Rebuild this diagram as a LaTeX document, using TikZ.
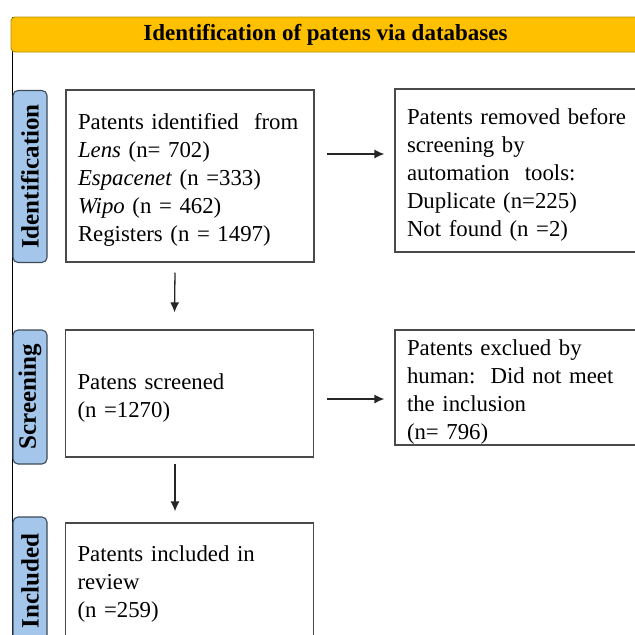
\documentclass[tikz,border=0pt]{standalone}
\usepackage{fontspec}
\setmainfont{Liberation Serif}
\usetikzlibrary{arrows.meta}
\definecolor{hdr}{HTML}{FFC000}
\definecolor{hdrline}{HTML}{B89000}
\definecolor{lbl}{HTML}{A3C6EA}
\definecolor{lblline}{HTML}{3D4A58}
\definecolor{boxline}{HTML}{4A4A4A}
\newcommand\tstrut{\rule{0pt}{24pt}}
\begin{document}
\begin{tikzpicture}[x=1pt,y=-1pt,
  txt/.style={font=\fontsize{22.8}{28}\selectfont},
  box/.style={txt, draw=boxline, line width=1.2pt, fill=white, align=left,
    inner xsep=12pt, inner ysep=0pt},
  lbox/.style={box, text width=224pt},
  rbox/.style={box, text width=236pt},
  side/.style={draw=lblline, line width=1.1pt, fill=lbl, rounded corners=5pt,
    rotate=90, minimum height=34pt, inner sep=0pt,
    font=\fontsize{25}{28}\selectfont\bfseries},
  arr/.style={line width=1.3pt, draw=black!85, -{Latex[length=10pt,width=9pt]}}]
\useasboundingbox (0,0) rectangle (635,635);
\clip (0,0) rectangle (635,635);
\fill[white] (0,0) rectangle (635,635);
\coordinate (ftop) at (12,17);
\coordinate (fbot) at (12,640);
\draw[line width=0.9pt] (ftop) -- (fbot);
\node[draw=hdrline, fill=hdr, line width=0.9pt, rounded corners=4pt,
  minimum width=629pt, minimum height=35pt, inner sep=0pt,
  font=\fontsize{23}{28}\selectfont\bfseries] (hdr) at (325.5,34.5)
  {Identification of patens via databases};

\node[side, minimum width=172pt] (s1) at (30,176.5) {Identification};
\node[side, minimum width=134pt] (s2) at (30,397) {Screening};
\node[side, minimum width=128pt] (s3) at (30,581) {Included};

\node[lbox, minimum height=172pt] (b1) at (190,176)
  {\tstrut Patents identified\ \ from\\ \textit{Lens} (n= 702)\\ \textit{Espacenet} (n =333)\\ \textit{Wipo} (n = 462)\\ Registers (n = 1497)};
\node[lbox, minimum height=127pt] (b2) at (189.5,393.5)
  {\tstrut Patens screened\\ (n =1270)};
\node[lbox, minimum height=114pt] (b3) at (189.5,580)
  {\tstrut Patents included in\\ review\\ (n =259)};

\node[rbox, minimum height=163pt] (r1) at (525,170.5)
  {\tstrut Patents removed before\\ screening by\\ automation\ \ tools:\\ Duplicate\ (n=225)\\ Not found (n =2)};
\node[rbox, minimum height=115pt] (r2) at (525,387.5)
  {\tstrut Patents exclued by\\ human:\ \ Did not meet\\ the inclusion\\ (n= 796)};

\draw[arr] ([xshift=12pt,yshift=22pt]b1.east) -- ([xshift=-10pt,yshift=16.5pt]r1.west);
\draw[arr] ([xshift=13pt,yshift=-5.5pt]b2.east) -- ([xshift=-10pt,yshift=-11.5pt]r2.west);
\draw[arr] ([xshift=-15pt,yshift=-10pt]b1.south) -- ([xshift=-15pt,yshift=17pt]b2.north);
\draw[arr] ([xshift=-14.5pt,yshift=-6pt]b2.south) -- ([xshift=-14.5pt,yshift=11pt]b3.north);
\end{tikzpicture}
\end{document}
